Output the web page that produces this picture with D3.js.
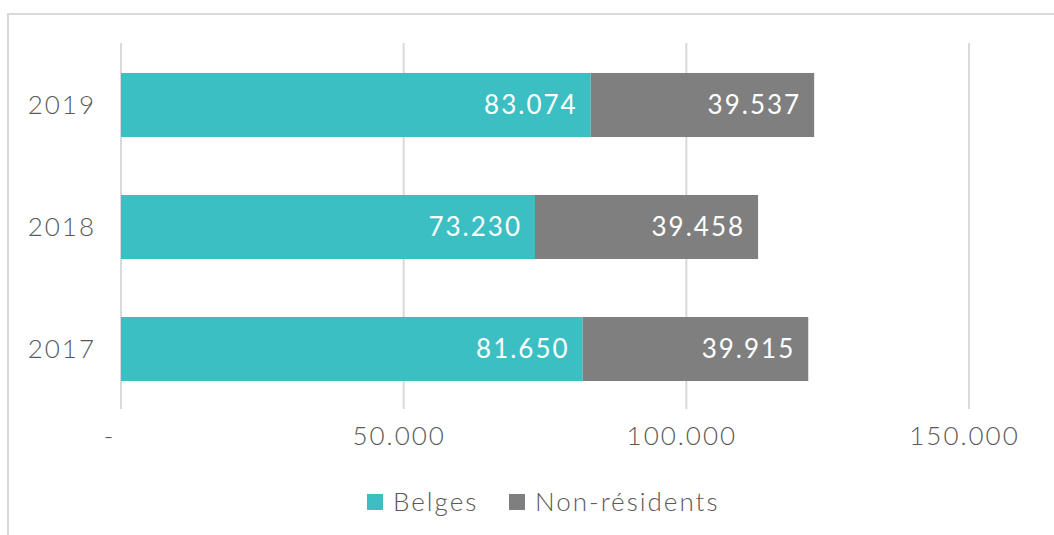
<!DOCTYPE html>
<html>
<head>
<meta charset="utf-8">
<script src="https://cdn.jsdelivr.net/npm/d3@7"></script>
<style>
	body { margin: 0; background: #fff; }
	text { font-family: Lato, "Open Sans", sans-serif; font-weight: 300; fill: #595959; letter-spacing: 2px; }
</style>
</head>
<body>
<div id="chart"></div>
<script>
const years = ["2019", "2018", "2017"];
const belges = [83074, 73230, 81650];
const nonResidents = [39537, 39458, 39915];
const tickValues = [0, 50000, 100000, 150000];
const seriesNames = ["Belges", "Non-résidents"];
const colors = ["#3bbfc2", "#7f7f7f"];

const width = 1054, height = 535;
const fmt = v => v === 0 ? "-" : d3.format(",")(v).replace(/,/g, ".");

const svg = d3.select("#chart")
	.append("svg")
	.attr("width", width)
	.attr("height", height);

// chart frame (only top and left are visible)
svg.append("rect")
	.attr("x", 8).attr("y", 14)
	.attr("width", 1200).attr("height", 700)
	.attr("fill", "none")
	.attr("stroke", "#d9d9d9")
	.attr("stroke-width", 2);

const x = d3.scaleLinear().domain([0, 150000]).range([121, 969]);
const y = d3.scaleBand().domain(years).range([44, 410]).paddingInner(0.475).paddingOuter(0.2375);

// gridlines
svg.append("g")
	.selectAll("line")
	.data(tickValues)
	.join("line")
	.attr("x1", d => x(d)).attr("x2", d => x(d))
	.attr("y1", 43).attr("y2", 409)
	.attr("stroke", "#d9d9d9")
	.attr("stroke-width", 2);

// x axis labels
const xAxis = d3.axisBottom(x).tickValues(tickValues).tickSize(0).tickFormat(fmt);
svg.append("g")
	.attr("transform", "translate(0, 424)")
	.call(xAxis)
	.call(g => g.select(".domain").remove())
	.selectAll(".tick text")
	.attr("dx", d => d === 0 ? -12 : -5)
	.style("font-size", "26px");

// y axis labels
const yAxis = d3.axisLeft(y).tickSize(0).tickPadding(25);
svg.append("g")
	.attr("transform", `translate(${x(0)}, 0)`)
	.call(yAxis)
	.call(g => g.select(".domain").remove())
	.selectAll(".tick text")
	.attr("dy", "0.36em")
	.style("font-size", "26px");

const rows = years.map((yr, i) => ({ year: yr, values: [belges[i], nonResidents[i]] }));
const stacked = rows.map(r => {
	let start = 0;
	return r.values.map((v, j) => {
		const seg = { year: r.year, series: j, x0: start, x1: start + v, value: v };
		start += v;
		return seg;
	});
}).flat();

svg.append("g")
	.selectAll("rect")
	.data(stacked)
	.join("rect")
	.attr("x", d => x(d.x0))
	.attr("y", d => y(d.year))
	.attr("width", d => x(d.x1) - x(d.x0))
	.attr("height", y.bandwidth())
	.attr("fill", d => colors[d.series]);

svg.append("g")
	.selectAll("text")
	.data(stacked)
	.join("text")
	.attr("x", d => x(d.x1) - 13)
	.attr("y", d => y(d.year) + y.bandwidth() / 2)
	.attr("dy", "0.36em")
	.attr("text-anchor", "end")
	.style("fill", "#fff")
	.style("font-weight", 400)
	.style("font-size", "26px")
	.text(d => fmt(d.value));

// legend
const legend = svg.append("g").attr("transform", "translate(367, 494)");
const legendX = [0, 142];
seriesNames.forEach((name, i) => {
	const item = legend.append("g").attr("transform", `translate(${legendX[i]}, 0)`);
	item.append("rect")
		.attr("width", 16).attr("height", 16)
		.attr("fill", colors[i]);
	item.append("text")
		.attr("x", 26).attr("y", 8)
		.attr("dy", "0.36em")
		.style("font-size", "26px")
		.text(name);
});
</script>
</body>
</html>
